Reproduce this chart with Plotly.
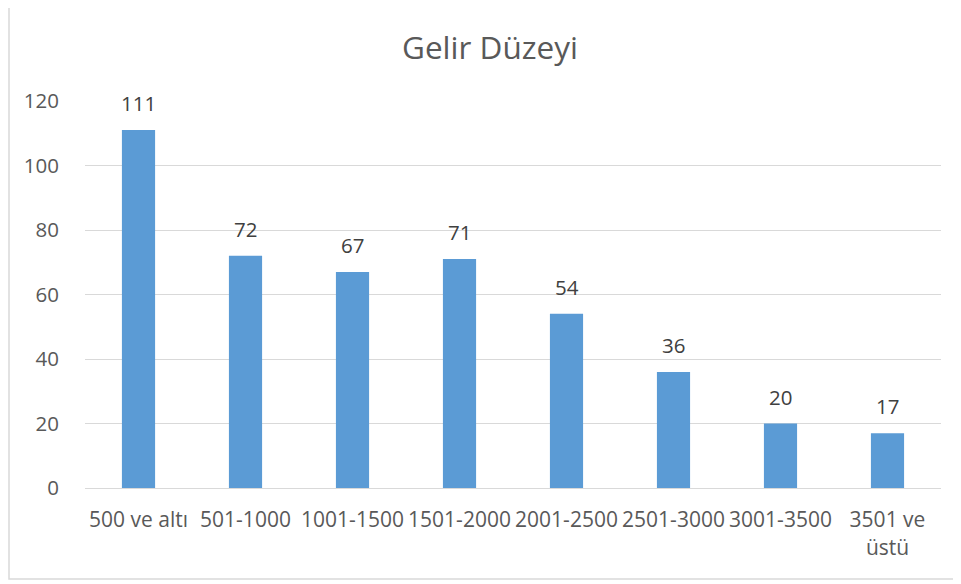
import plotly.graph_objects as go

categories = ["500 ve altı", "501-1000", "1001-1500", "1501-2000", "2001-2500",
              "2501-3000", "3001-3500", "3501 ve<br>üstü"]
values = [111, 72, 67, 71, 54, 36, 20, 17]
y_ticks = [0, 20, 40, 60, 80, 100, 120]

FONT = "Open Sans, Liberation Sans, sans-serif"
TXT = "#595959"

# page body has an 8px margin; work in figure coords = reference coords - 8
OFF = 8
W, H = 961 - OFF, 584 - OFF
L, T = 85 - OFF, 101 - OFF
R = W - (941 - OFF)
B = H - (488 - OFF)
pw, ph = W - L - R, H - T - B

def px_x(p):
    return (p - OFF - L) / pw

def px_y(p):
    return (H - B - (p - OFF)) / ph

fig = go.Figure(go.Bar(
    x=categories, y=values,
    marker=dict(color="#5B9BD5", line=dict(width=0)),
    cliponaxis=False,
))

annotations = [dict(x=c, y=v, xref="x", yref="y", text=str(v), showarrow=False,
                    yanchor="bottom", yshift=11,
                    font=dict(family=FONT, size=20.5, color="#404040"))
               for c, v in zip(categories, values)]

fig.update_layout(
    width=W, height=H,
    margin=dict(l=L, r=R, t=T, b=B, pad=0),
    paper_bgcolor="white", plot_bgcolor="white",
    bargap=0.69,
    showlegend=False,
    title=dict(text="Gelir Düzeyi", x=(490 - OFF) / W, xanchor="center",
               y=1 - (48 - OFF) / H, yanchor="middle",
               font=dict(family=FONT, size=31.5, color=TXT)),
    font=dict(family=FONT, color=TXT),
    xaxis=dict(
        showgrid=False, showline=True, linecolor="#d9d9d9", linewidth=1,
        ticks="outside", ticklen=13, tickcolor="rgba(0,0,0,0)",
        tickfont=dict(family=FONT, size=21, color=TXT),
        tickangle=0, fixedrange=True,
    ),
    yaxis=dict(
        range=[0, 120], tickvals=y_ticks, showgrid=True, gridcolor="#d9d9d9", gridwidth=1,
        zeroline=False, showline=False,
        ticks="outside", ticklen=21, tickcolor="rgba(0,0,0,0)",
        tickfont=dict(family=FONT, size=20.5, color=TXT),
    ),
    annotations=annotations,
    shapes=[dict(type="rect", xref="paper", yref="paper",
                 x0=px_x(9), x1=px_x(955), y0=px_y(579), y1=px_y(2),
                 line=dict(color="#d9d9d9", width=1.5), fillcolor="rgba(0,0,0,0)",
                 layer="below")],
)

fig.write_html("out.html")
